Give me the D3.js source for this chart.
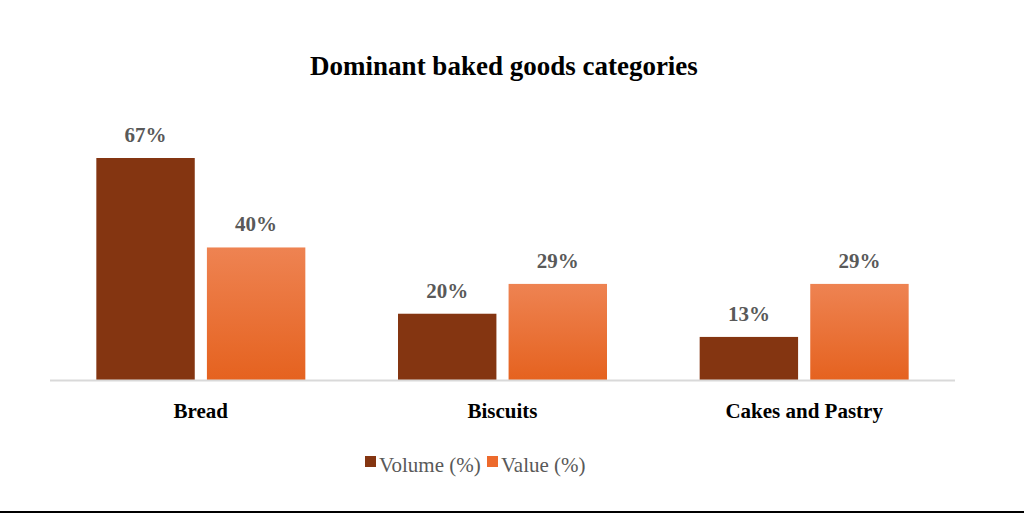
<!DOCTYPE html>
<html lang="en">
<head>
<meta charset="utf-8">
<title>Dominant baked goods categories</title>
<script src="https://d3js.org/d3.v7.min.js"></script>
<style>
body { margin: 0; background: #fff; }
text { font-family: "Liberation Serif", "Times New Roman", serif; }
</style>
</head>
<body>
<div id="chart"></div>
<script>
var categories = ["Bread", "Biscuits", "Cakes and Pastry"];
var volume = [67, 20, 13];
var value = [40, 29, 29];
var seriesNames = ["Volume (%)", "Value (%)"];

var width = 1024, height = 515;
var baseY = 380;

const svg = d3.select("#chart").append("svg")
    .attr("width", width).attr("height", height);

var defs = svg.append("defs");
var g1 = defs.append("linearGradient").attr("id", "gv").attr("x1", 0).attr("y1", 0).attr("x2", 0).attr("y2", 1);
g1.append("stop").attr("offset", "0%").attr("stop-color", "#ee8352");
g1.append("stop").attr("offset", "100%").attr("stop-color", "#e5621f");

var x0 = d3.scaleBand().domain(categories).range([50, 955]);
var x1 = d3.scaleBand().domain([0, 1]).range([0, 209]).paddingInner(0.11);
var y = d3.scaleLinear().domain([0, 67]).range([baseY, 158]);

var colors = ["#843511", "url(#gv)"];
var series = [volume, value];

svg.append("text").attr("x", 504).attr("y", 75).attr("text-anchor", "middle")
    .style("font-size", "27px").style("font-weight", "bold").text("Dominant baked goods categories");

series.forEach(function (s, si) {
    categories.forEach(function (c, i) {
        var bx = x0(c) + (x0.bandwidth() - 209) / 2 + x1(si);
        svg.append("rect").attr("x", bx).attr("y", y(s[i]))
            .attr("width", x1.bandwidth()).attr("height", baseY - y(s[i]))
            .attr("fill", colors[si]);
        svg.append("text").attr("x", bx + x1.bandwidth() / 2).attr("y", y(s[i]) - 16)
            .attr("text-anchor", "middle").attr("fill", "#595959")
            .style("font-size", "21px").style("font-weight", "bold").text(s[i] + "%");
    });
});

svg.append("line").attr("x1", 50).attr("x2", 955).attr("y1", baseY + 0.5).attr("y2", baseY + 0.5)
    .attr("stroke", "#d9d9d9").attr("stroke-width", 2);

categories.forEach(function (c) {
    svg.append("text").attr("x", x0(c) + x0.bandwidth() / 2).attr("y", 418)
        .attr("text-anchor", "middle").style("font-size", "21px").style("font-weight", "bold").text(c);
});

var legX = [365, 487];
seriesNames.forEach(function (n, i) {
    svg.append("rect").attr("x", legX[i]).attr("y", 456).attr("width", 11).attr("height", 11)
        .attr("fill", i === 0 ? "#843511" : "#ed6a2c");
    svg.append("text").attr("x", legX[i] + 14).attr("y", 472).attr("fill", "#595959")
        .style("font-size", "21px").text(n);
});

svg.append("line").attr("x1", 0).attr("x2", width).attr("y1", 512).attr("y2", 512)
    .attr("stroke", "#000").attr("stroke-width", 2);
</script>
</body>
</html>
